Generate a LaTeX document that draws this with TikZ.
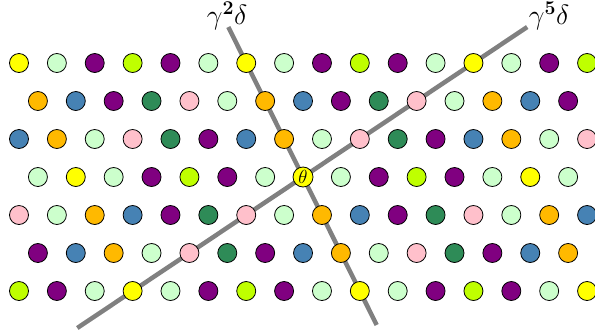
\RequirePackage{fix-cm}
\documentclass[tikz,border=0pt]{standalone}
\definecolor{cY}{RGB}{255,255,0}
\definecolor{cLG}{RGB}{204,255,204}
\definecolor{cP}{RGB}{128,0,128}
\definecolor{cL}{RGB}{191,255,0}
\definecolor{cO}{RGB}{255,185,0}
\definecolor{cB}{RGB}{70,130,180}
\definecolor{cDG}{RGB}{46,139,87}
\definecolor{cPk}{RGB}{255,192,203}
\definecolor{rayc}{RGB}{128,128,128}
\tikzset{
  dot/.style={circle, minimum size=19bp, inner sep=0pt, draw=black, line width=0.8bp},
  Y/.style={fill=cY}, LG/.style={fill=cLG}, P/.style={fill=cP}, L/.style={fill=cL},
  O/.style={fill=cO}, B/.style={fill=cB}, DG/.style={fill=cDG}, Pk/.style={fill=cPk},
  TH/.style={fill=cY, minimum size=20bp, font=\fontsize{19}{21}\selectfont, execute at begin node={$\theta$}},
  ray/.style={draw=rayc, line width=4.5bp},
  lab/.style={inner sep=0pt, font=\fontsize{28}{32}\selectfont}
}
\begin{document}
\begin{tikzpicture}[x=1bp, y=-1bp]
\useasboundingbox (0,0) rectangle (595,333);
% rays
\coordinate (a1) at (228.3,27);
\coordinate (a2) at (376.7,325);
\coordinate (b1) at (527.2,27);
\coordinate (b2) at (77.3,328);
\draw[ray] (a1) -- (a2);
\draw[ray] (b2) -- (b1);
% lattice
\foreach \r/\yy/\xo/\cols in {
  0/63/19/{Y,LG,P,L,P,LG,Y,LG,P,L,P,LG,Y,LG,P,L},
  1/101/37.93/{O,B,P,DG,Pk,LG,O,B,P,DG,Pk,LG,O,B,P},
  2/139/19/{B,O,LG,Pk,DG,P,B,O,LG,Pk,DG,P,B,O,LG,Pk},
  3/177/37.93/{LG,Y,LG,P,L,P,LG,TH,LG,P,L,P,LG,Y,LG},
  4/215/19/{Pk,LG,O,B,P,DG,Pk,LG,O,B,P,DG,Pk,LG,O,B},
  5/253/37.93/{P,B,O,LG,Pk,DG,P,B,O,LG,Pk,DG,P,B,O},
  6/291/19/{L,P,LG,Y,LG,P,L,P,LG,Y,LG,P,L,P,LG,Y}}{
  \foreach \c [count=\k from 0] in \cols {
    \node[dot, \c] (c\r-\k) at ({\xo+\k*37.87},\yy) {};
  }
}
% labels
\node[lab] (la) at (227,16) {$\gamma^{\mathbf{2}}\delta$};
\node[lab] (lb) at (549,16) {$\gamma^{\mathbf{5}}\delta$};
\end{tikzpicture}
\end{document}
